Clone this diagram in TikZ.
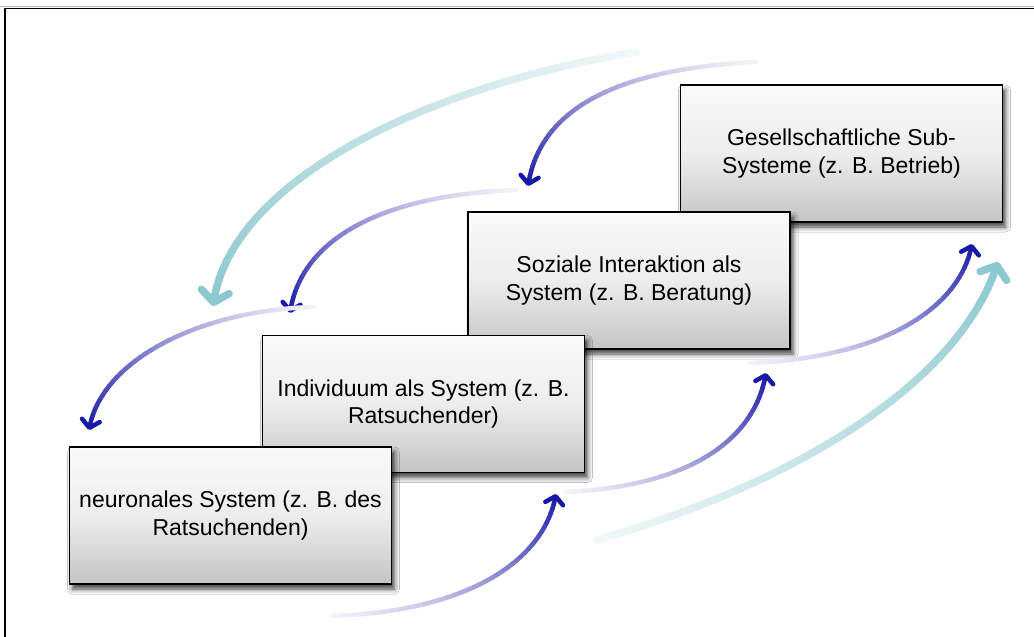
\documentclass[tikz,border=0pt]{standalone}
\usepackage{fontspec}
\setmainfont{Liberation Sans}
\usetikzlibrary{arrows.meta,shadows.blur}

% arc colours: dark head, almost white tail
\definecolor{blueHead}{HTML}{1818A8}
\definecolor{blueTail}{HTML}{F4F0F9}
\definecolor{tealHead}{HTML}{8CC8CF}
\definecolor{tealTail}{HTML}{F3F9F9}

\tikzset{
  sysbox/.style={draw=black, line width=1.4pt,
    minimum width=322pt, minimum height=137pt, inner sep=0pt,
    align=center, font=\fontsize{23}{27.5}\selectfont,
    top color=black!2, bottom color=black!23, middle color=black!7,
    blur shadow={shadow xshift=3pt, shadow yshift=-5pt,
                 shadow blur radius=5pt, shadow opacity=75}},
  bluearc/.style={line width=4.5pt, line cap=round},
  tealarc/.style={line width=7.5pt, line cap=round},
  bluetip/.style={-{Straight Barb[round,length=7.5pt,width=18pt]}},
  tealtip/.style={-{Straight Barb[round,length=11pt,width=28pt]}},
}

% curved arrow whose colour fades from the tail to the head
% #1 kind (blue/teal), #2 exponent, #3 start, #4 control 1, #5 control 2, #6 end
\newcommand\fadedarc[6]{%
  \foreach \k in {0,...,40}{%
    \pgfmathsetmacro\tpos{\k/40}%
    \path (#3) .. controls (#4) and (#5) .. (#6) coordinate[pos=\tpos] (#3-\k);%
  }%
  \foreach \k in {0,...,38}{%
    \pgfmathtruncatemacro\kk{\k+1}%
    \pgfmathtruncatemacro\mixv{100*((\k+0.5)/40)^#2}%
    \draw[#1arc, color=#1Head!\mixv!#1Tail] (#3-\k) -- (#3-\kk);%
  }%
  \draw[#1arc, #1tip, color=#1Head] (#3-39) -- (#3-40);%
}

\begin{document}
\begin{tikzpicture}[x=1pt, y=-1pt]
  \useasboundingbox (0,0) rectangle (1034,637);
  \fill[white] (0,0) rectangle (1034,637);

  % outer frame (left and top edges)
  \coordinate (frameBL) at (5,637);
  \coordinate (frameTL) at (5,8.5);
  \coordinate (frameTR) at (1034,8.5);
  \draw[black!30, line width=1pt] (0,6.5) -- (1034,6.5);
  \draw[black, line width=1.6pt] (frameBL) -- (frameTL) -- (frameTR);

  % system levels, from back to front
  \node[sysbox] (gesell) at (841.5,153.5) {Gesellschaftliche Sub-\\Systeme (z. B. Betrieb)};
  \node[sysbox] (sozial) at (629,280.5) {Soziale Interaktion als\\System (z. B. Beratung)};
  \node[sysbox] (indiv)  at (423.5,404) {Individuum als System (z. B.\\Ratsuchender)};
  \node[sysbox] (neuro)  at (230.5,515.5) {neuronales System (z. B. des\\Ratsuchenden)};

  % downward influences (top left)
  \coordinate (t1s) at (637,52);  \coordinate (t1a) at (430,85);
  \coordinate (t1b) at (228,180); \coordinate (t1e) at (213,306);
  \fadedarc{teal}{0.9}{t1s}{t1a}{t1b}{t1e}

  \coordinate (d1s) at (755,62);  \coordinate (d1a) at (600,70);
  \coordinate (d1b) at (538,118); \coordinate (d1e) at (528,186);
  \fadedarc{blue}{1.2}{d1s}{d1a}{d1b}{d1e}

  \coordinate (d2s) at (516,190); \coordinate (d2a) at (380,195);
  \coordinate (d2b) at (300,240); \coordinate (d2e) at (290,313);
  \fadedarc{blue}{1.2}{d2s}{d2a}{d2b}{d2e}

  \coordinate (d3s) at (314,307); \coordinate (d3a) at (200,310);
  \coordinate (d3b) at (100,360); \coordinate (d3e) at (89,430);
  \fadedarc{blue}{1.2}{d3s}{d3a}{d3b}{d3e}

  % upward influences (bottom right)
  \coordinate (t2s) at (597,540); \coordinate (t2a) at (800,482);
  \coordinate (t2b) at (962,380); \coordinate (t2e) at (998,262);
  \fadedarc{teal}{0.9}{t2s}{t2a}{t2b}{t2e}

  \coordinate (u1s) at (333,616); \coordinate (u1a) at (470,611);
  \coordinate (u1b) at (545,560); \coordinate (u1e) at (556,494);
  \fadedarc{blue}{1.2}{u1s}{u1a}{u1b}{u1e}

  \coordinate (u2s) at (566,492); \coordinate (u2a) at (690,486);
  \coordinate (u2b) at (755,440); \coordinate (u2e) at (766,373);
  \fadedarc{blue}{1.2}{u2s}{u2a}{u2b}{u2e}

  \coordinate (u3s) at (750,363); \coordinate (u3a) at (880,358);
  \coordinate (u3b) at (960,310); \coordinate (u3e) at (972,244);
  \fadedarc{blue}{1.2}{u3s}{u3a}{u3b}{u3e}
\end{tikzpicture}
\end{document}
